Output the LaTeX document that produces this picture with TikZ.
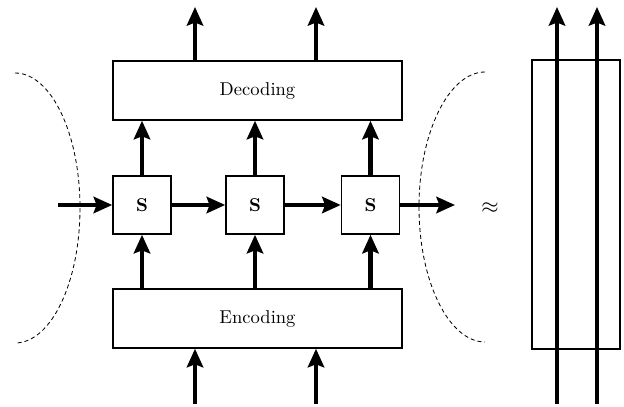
\documentclass[tikz,border=0pt]{standalone}
\usetikzlibrary{arrows.meta}
\begin{document}
\begin{tikzpicture}[x=0.539pt, y=-0.539pt,
  box/.style={draw, line width=0.8pt, inner sep=0pt, fill=white},
  widebox/.style={box, minimum width=155.8pt, minimum height=31.8pt},
  sbox/.style={box, minimum width=31.3pt, minimum height=31.3pt, font=\bfseries},
  arr/.style={line width=2.5pt, -{Stealth[length=10pt, width=8.8pt, inset=1.6pt]}},
  band/.style={line width=2.5pt, -{Stealth[length=10pt, width=8.8pt, inset=1.6pt]}},
  guide/.style={line width=0.45pt, dash pattern=on 2.2pt off 1.6pt}]
\useasboundingbox (0,0) rectangle (624,407);

% context boundaries on either side of the unrolled chain
\draw[guide] (15,73) .. controls (51,73) and (80,133.5) .. (80,208)
  .. controls (80,282.5) and (51,343) .. (15,343);
\draw[guide] (485,72) .. controls (449,72) and (419,132.5) .. (419,207)
  .. controls (419,281.5) and (449,342) .. (485,342);

% decoder, encoder and the state cells
\node[widebox] (dec) at (257.5,90.5) {Decoding};
\node[widebox] (enc) at (257.5,318.5) {Encoding};
\node[sbox] (s1) at (142,205) {S};
\node[sbox] (s2) at (255,205) {S};
\node[sbox] (s3) at (370.5,205) {S};

% free ends of the connectors
\coordinate (o1) at (195,7);
\coordinate (o2) at (316,7);
\coordinate (i1) at (195,404);
\coordinate (i2) at (316,404);
\coordinate (sin) at (58,205);
\coordinate (sout) at (455,205);

% outputs and inputs
\draw[arr] (dec.north -| o1) -- (o1);
\draw[arr] (dec.north -| o2) -- (o2);
\draw[arr] (i1) -- (enc.south -| i1);
\draw[arr] (i2) -- (enc.south -| i2);

% encoder -> state -> decoder
\foreach \s in {s1,s2,s3}{
  \draw[arr] (enc.north -| \s) -- (\s.south);
  \draw[arr] (\s.north) -- (dec.south -| \s);
}

% recurrence along the chain
\draw[arr] (sin) -- (s1.west);
\draw[arr] (s1.east) -- (s2.west);
\draw[arr] (s2.east) -- (s3.west);
\draw[arr] (s3.east) -- (sout);

\node (approx) at (490,208) {\large$\approx$};

% compact view: one block crossed by two streams
\node[box, minimum width=47.4pt, minimum height=155.8pt] (blk) at (576,204.5) {};
\coordinate (b1) at (557,404);
\coordinate (b2) at (597,404);
\coordinate (t1) at (557,7);
\coordinate (t2) at (597,7);
\draw[band] (b1) -- (t1);
\draw[band] (b2) -- (t2);
\end{tikzpicture}
\end{document}
